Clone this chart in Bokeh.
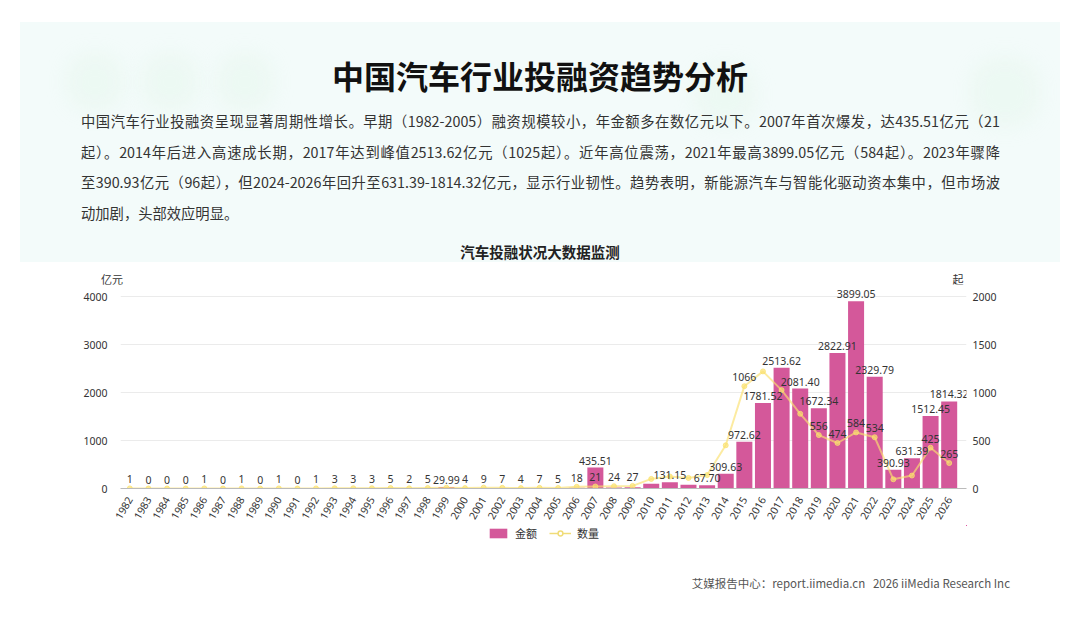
import math
from bokeh.plotting import figure
from bokeh.layouts import column
from bokeh.models import (Range1d, LinearAxis, FixedTicker, Legend, LegendItem,
                          ColumnDataSource, Div)
from bokeh.core.properties import value
from bokeh.embed import file_html
from bokeh.resources import INLINE

# ---------------- data ----------------
years = [str(y) for y in range(1982, 2027)]
amount = [0.6, 0, 0, 0, 0.3, 0, 0.5, 0, 0.2, 0, 0.4, 1.2, 2.5, 1.8, 3.1, 0.8, 4.2, 29.99,
          3.5, 12.4, 6.8, 5.2, 9.6, 6.3, 15.8, 435.51, 22.4, 25.7, 100.3, 131.15, 78.4, 67.70,
          309.63, 972.62, 1781.52, 2513.62, 2081.40, 1672.34, 2822.91, 3899.05, 2329.79,
          390.93, 631.39, 1512.45, 1814.32]
count = [1, 0, 0, 0, 1, 0, 1, 0, 1, 0, 1, 3, 3, 3, 5, 2, 5, 8, 4, 9, 7, 4, 7, 5, 18, 21, 24, 27,
         100, 125, 110, 140, 450, 1066, 1220, 1025, 778, 556, 474, 584, 534, 96, 135, 425, 265]
# labels that remain visible (others hidden by overlap in the original)
amount_label_years = ["1999", "2007", "2011", "2013", "2014", "2015", "2016", "2017", "2018",
                      "2019", "2020", "2021", "2022", "2023", "2024", "2025", "2026"]
count_label_years = [str(y) for y in range(1982, 2010) if y != 1999] + \
                    ["2015", "2019", "2020", "2021", "2022", "2025", "2026"]
left_ticks = [0, 1000, 2000, 3000, 4000]
right_ticks = [0, 500, 1000, 1500, 2000]
series_names = ["金额", "数量"]
unit_left, unit_right = "亿元", "起"

title_text = "中国汽车行业投融资趋势分析"
para_lines = [
    "中国汽车行业投融资呈现显著周期性增长。早期（1982-2005）融资规模较小，年金额多在数亿元以下。2007年首次爆发，达435.51亿元（21",
    "起）。2014年后进入高速成长期，2017年达到峰值2513.62亿元（1025起）。近年高位震荡，2021年最高3899.05亿元（584起）。2023年骤降",
    "至390.93亿元（96起），但2024-2026年回升至631.39-1814.32亿元，显示行业韧性。趋势表明，新能源汽车与智能化驱动资本集中，但市场波",
    "动加剧，头部效应明显。",
]
chart_title = "汽车投融状况大数据监测"
footer_text = "艾媒报告中心：report.iimedia.cn&nbsp;&nbsp;&nbsp;2026 iiMedia Research Inc"

FONT = "Noto Sans CJK SC"
NUMFONT = "Noto Sans, Noto Sans CJK SC"
BAR_COLOR = "#d4589a"
LINE_COLOR = "#fae16e"

# ---------------- geometry (page pixels) ----------------
W = 1064
HEAD_H = 284
FL, FR, FT, FB = 120, 966, 284, 488   # frame edges
BAR_R = 958                           # right edge of the last category slot
BOTTOM = 37
MAIN_H = (FB - FT) + BOTTOM
LEG_H = 16
FOOT_H = 60
n = len(years)
x_end = -0.5 + n * (FR - FL) / (BAR_R - FL)
y_end = 4000 * (FB - FT) / 192.0

# ---------------- header (HTML) ----------------
blobs = "".join(
    f'<div style="position:absolute;left:{x - r}px;top:{y - r}px;width:{2 * r}px;height:{2 * r}px;'
    f'border-radius:40%;background:rgba(215,240,218,0.22);filter:blur(10px);"></div>'
    for x, y, r in [(95, 82, 28), (170, 82, 28), (245, 82, 28), (725, 95, 30), (1005, 92, 34)])

head_html = (
    f'<div style="position:relative;width:{W}px;height:{HEAD_H}px;font-family:\'{FONT}\';">'
    f'<div style="position:absolute;left:20px;top:22px;width:1040px;height:240px;'
    f'background:#f3fbfa;"></div>' + blobs +
    f'<div style="position:absolute;left:0;top:59px;width:1080px;text-align:center;'
    f'font-size:32px;font-weight:bold;color:#111;line-height:32px;">{title_text}</div>'
)
for i, line in enumerate(para_lines):
    top = 121 + i * 30.7 - 8
    if i < len(para_lines) - 1:
        head_html += (f'<div style="position:absolute;left:81px;top:{top}px;width:919px;'
                      f'font-size:14.3px;line-height:16px;color:#333;text-align:justify;'
                      f'text-align-last:justify;white-space:nowrap;">{line}</div>')
    else:
        head_html += (f'<div style="position:absolute;left:81px;top:{top}px;'
                      f'font-size:14.3px;line-height:16px;color:#333;white-space:nowrap;">'
                      f'{line}</div>')
head_html += (f'<div style="position:absolute;left:0;top:244px;width:1080px;text-align:center;'
              f'font-size:14.5px;font-weight:bold;color:#222;line-height:16px;">{chart_title}</div>')
head_html += (f'<div style="position:absolute;left:92px;top:273px;width:40px;text-align:center;'
              f'font-size:11px;color:#333;line-height:12px;">{unit_left}</div>')
head_html += (f'<div style="position:absolute;left:938px;top:273px;width:40px;text-align:center;'
              f'font-size:11px;color:#333;line-height:12px;">{unit_right}</div>')
head_html += '</div>'
header = Div(text=head_html, width=W, height=HEAD_H, margin=0)

# ---------------- main chart ----------------
p = figure(width=W, height=MAIN_H, output_backend="svg", toolbar_location=None,
           x_range=Range1d(-0.5, x_end), y_range=Range1d(0, y_end),
           min_border_left=FL, min_border_right=W - FR, min_border_top=0,
           min_border_bottom=BOTTOM,
           outline_line_color=None, background_fill_color="white", border_fill_color="white")
p.extra_y_ranges = {"count": Range1d(0, y_end / 2)}

src = ColumnDataSource(dict(x=list(range(n)), year=years, amount=amount, count=count))
bars = p.vbar(x="x", top="amount", width=0.86, source=src, fill_color=BAR_COLOR,
              line_color=None)
ln = p.line(x="x", y="count", source=src, y_range_name="count", line_color=LINE_COLOR,
            line_width=2, line_alpha=0.65)
pts = p.scatter(x="x", y="count", source=src, y_range_name="count", size=5,
                fill_color=LINE_COLOR, fill_alpha=0.65, line_color=LINE_COLOR, line_alpha=0.75)

a_x = [years.index(y) for y in amount_label_years]
a_y = [amount[i] for i in a_x]
p.text(x=a_x, y=a_y, text=["%.2f" % v for v in a_y], text_font=value(NUMFONT),
       text_font_size="10.5px", text_color="#333333", text_align="center",
       text_baseline="bottom", y_offset=-3)
c_x = [years.index(y) for y in count_label_years]
c_y = [count[i] for i in c_x]
p.text(x=c_x, y=c_y, text=[str(v) for v in c_y], text_font=value(NUMFONT),
       text_font_size="10.5px", text_color="#333333", text_align="center",
       text_baseline="bottom", y_offset=-5, y_range_name="count")

p.xaxis.ticker = FixedTicker(ticks=list(range(n)))
p.xaxis.major_label_overrides = {i: y for i, y in enumerate(years)}
p.xaxis.major_label_orientation = math.radians(60)
p.xaxis.major_label_text_font = NUMFONT
p.xaxis.major_label_text_font_size = "10.5px"
p.xaxis.major_label_text_color = "#333333"
p.xaxis.major_label_standoff = 3
p.xaxis.axis_line_color = "#bbbbbb"
p.xaxis.major_tick_line_color = None
p.xaxis.minor_tick_line_color = None

p.yaxis.ticker = FixedTicker(ticks=left_ticks)
p.yaxis.axis_line_color = None
p.yaxis.major_tick_line_color = None
p.yaxis.minor_tick_line_color = None
p.yaxis.major_label_text_font = NUMFONT
p.yaxis.major_label_text_font_size = "10.5px"
p.yaxis.major_label_text_color = "#333333"
p.yaxis.major_label_standoff = 7

ra = LinearAxis(y_range_name="count", ticker=FixedTicker(ticks=right_ticks))
ra.axis_line_color = None
ra.major_tick_line_color = None
ra.minor_tick_line_color = None
ra.major_label_text_font = NUMFONT
ra.major_label_text_font_size = "10.5px"
ra.major_label_text_color = "#333333"
ra.major_label_standoff = 0
p.add_layout(ra, "right")

p.xgrid.visible = False
p.ygrid.grid_line_color = "#ebebeb"
p.ygrid.ticker = FixedTicker(ticks=left_ticks)

# ---------------- legend strip (same series, plotted out of view) ----------------
lg = figure(width=W, height=LEG_H, output_backend="svg", toolbar_location=None,
            x_range=Range1d(-200, -199), y_range=Range1d(-200, -199),
            x_axis_type=None, y_axis_type=None,
            min_border_left=FL, min_border_right=W - FR, min_border_top=0, min_border_bottom=0,
            outline_line_color=None)
lg.grid.visible = False
lb = lg.vbar(x="x", top="amount", width=0.86, source=src, fill_color=BAR_COLOR, line_color=None)
ll = lg.line(x="x", y="count", source=src, line_color="#f0dc78", line_width=1.5)
ls = lg.scatter(x="x", y="count", source=src, size=9, fill_color="white", line_color="#f0dc78",
                line_width=1.5)
legend = Legend(items=[LegendItem(label=series_names[0], renderers=[lb]),
                       LegendItem(label=series_names[1], renderers=[ll, ls])],
                orientation="horizontal", location="center",
                label_text_font=FONT, label_text_font_size="11px", label_text_color="#333333",
                glyph_width=22, glyph_height=12, spacing=12, label_standoff=6,
                border_line_color=None, background_fill_alpha=0, margin=0, padding=2)
lg.add_layout(legend)

# ---------------- footer ----------------
footer_top = HEAD_H + MAIN_H + LEG_H
footer = Div(text=(f'<div style="position:relative;width:{W}px;height:{FOOT_H}px;'
                   f'font-family:\'{FONT}\';">'
                   f'<div style="position:absolute;right:{W - 1010}px;top:{583 - footer_top - 7}px;'
                   f'font-size:11.5px;line-height:14px;color:#555;white-space:nowrap;">'
                   f'{footer_text}</div></div>'), width=W, height=FOOT_H, margin=0)

layout = column(header, p, lg, footer, spacing=0)
open("out.html", "w").write(file_html(layout, INLINE))
